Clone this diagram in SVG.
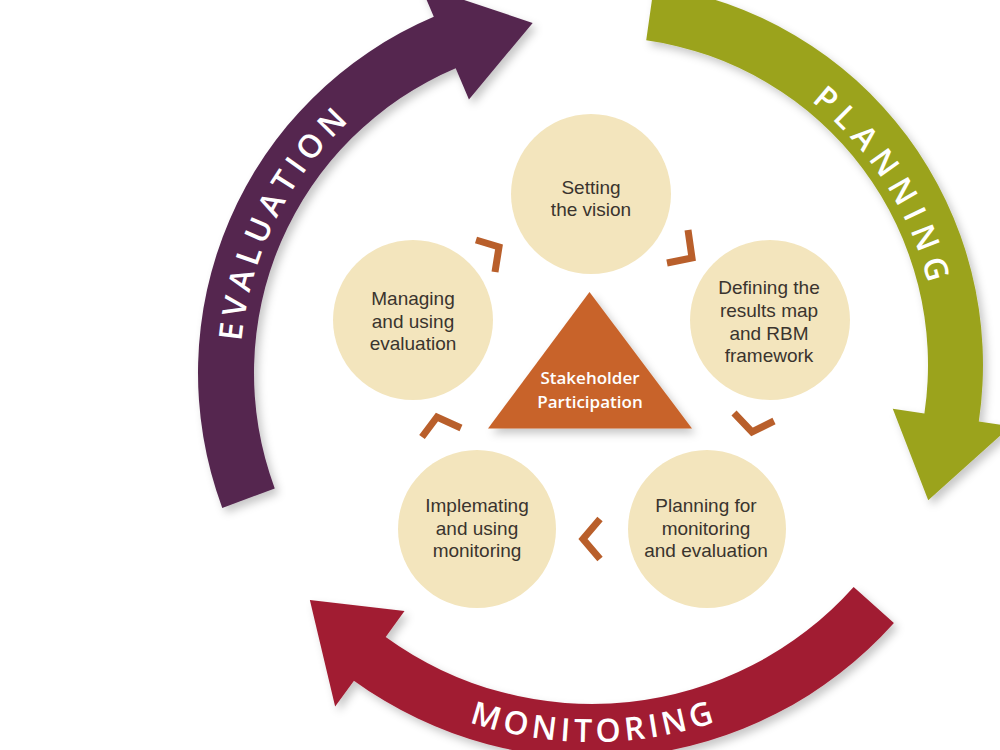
<svg xmlns="http://www.w3.org/2000/svg" width="1000" height="750" viewBox="0 0 1000 750">
  <defs>
    <filter id="sh" x="-15%" y="-15%" width="140%" height="140%">
      <feDropShadow dx="4" dy="5" stdDeviation="4" flood-color="#000" flood-opacity="0.22"/>
    </filter>
    <path id="evalPath" d="M 240,373 A 345 345 0 0 1 372.6,101.1"/>
    <path id="planPath" d="M 769.0,72.3 A 338 338 0 0 1 936.5,333.3"/>
    <path id="monPath" d="M 427.6,705.6 A 389 389 0 0 0 756.4,705.6"/>
  </defs>
  <style>
    .arcTxt { font-family: "Open Sans", "Liberation Sans", sans-serif; font-size: 32px; font-weight: 600; fill: #ffffff; }
    .node circle { fill: #f3e5bd; }
    .node text { font-family: "Liberation Sans", "Open Sans", sans-serif; font-size: 19px; fill: #3a342e; text-anchor: middle; }
    .center-txt { font-family: "Open Sans", "Liberation Sans", sans-serif; font-size: 17px; font-weight: 600; fill: #ffffff; text-anchor: middle; }
    .chev { fill: none; stroke: #b95f2b; stroke-width: 7; stroke-linejoin: miter; stroke-linecap: butt; }
  </style>
  <rect width="1000" height="750" fill="#ffffff"/>

  <g id="arrow-evaluation">
    <path filter="url(#sh)" fill="#552750" d="M 222.27,507.90 A 387 387 0 0 1 433.79,16.77 L 420.50,-14.53 L 532.67,22.89 L 468.95,99.61 L 455.67,68.31 A 331 331 0 0 0 274.76,488.38 Z"/>
    <text class="arcTxt"><textPath href="#evalPath" startOffset="50%" text-anchor="middle" textLength="250" lengthAdjust="spacing">EVALUATION</textPath></text>
  </g>

  <g id="arrow-planning">
    <path filter="url(#sh)" fill="#9ba31f" d="M 653.96,-14.18 A 383 383 0 0 1 978.79,421.61 L 1010.44,426.34 L 928.22,500.28 L 892.75,408.75 L 924.40,413.48 A 328 328 0 0 0 646.22,40.27 Z"/>
    <text class="arcTxt"><textPath href="#planPath" startOffset="50%" text-anchor="middle" textLength="220" lengthAdjust="spacing">PLANNING</textPath></text>
  </g>

  <g id="arrow-monitoring">
    <path filter="url(#sh)" fill="#a11c32" d="M 893.92,622.94 A 405 405 0 0 1 353.95,680.65 L 335.14,706.54 L 309.85,600.01 L 404.50,611.08 L 385.69,636.97 A 351 351 0 0 0 853.66,586.95 Z"/>
    <text class="arcTxt"><textPath href="#monPath" startOffset="50%" text-anchor="middle" textLength="250" lengthAdjust="spacing">MONITORING</textPath></text>
  </g>

  <g id="connectors">
    <polyline class="chev" points="476,240 499,247 495,272"/>
    <polyline class="chev" points="688,230 692,258 667,263"/>
    <polyline class="chev" points="734,413 752,432 774,421"/>
    <polyline class="chev" points="600,519 583,539 600,559"/>
    <polyline class="chev" points="422,437 437,417 461,428"/>
  </g>

  <g id="stakeholder-participation">
    <polygon filter="url(#sh)" fill="#c8632a" points="589.5,292 488,428.5 692,428.5"/>
    <text class="center-txt" x="590" y="384">Stakeholder</text>
    <text class="center-txt" x="590" y="408">Participation</text>
  </g>

  <g id="setting-vision" class="node">
    <circle cx="591" cy="194" r="80"/>
    <text x="591" y="194">Setting</text>
    <text x="591" y="216">the vision</text>
  </g>

  <g id="defining-results" class="node">
    <circle cx="770" cy="320" r="80"/>
    <text x="769" y="294">Defining the</text>
    <text x="769" y="317">results map</text>
    <text x="769" y="340">and RBM</text>
    <text x="769" y="362">framework</text>
  </g>

  <g id="planning-me" class="node">
    <circle cx="707" cy="529" r="79"/>
    <text x="706" y="512">Planning for</text>
    <text x="706" y="535">monitoring</text>
    <text x="706" y="557">and evaluation</text>
  </g>

  <g id="implementing-monitoring" class="node">
    <circle cx="477" cy="529" r="79"/>
    <text x="477" y="512">Implemating</text>
    <text x="477" y="535">and using</text>
    <text x="477" y="557">monitoring</text>
  </g>

  <g id="managing-evaluation" class="node">
    <circle cx="413" cy="320" r="80"/>
    <text x="413" y="305">Managing</text>
    <text x="413" y="328">and using</text>
    <text x="413" y="350">evaluation</text>
  </g>
</svg>
